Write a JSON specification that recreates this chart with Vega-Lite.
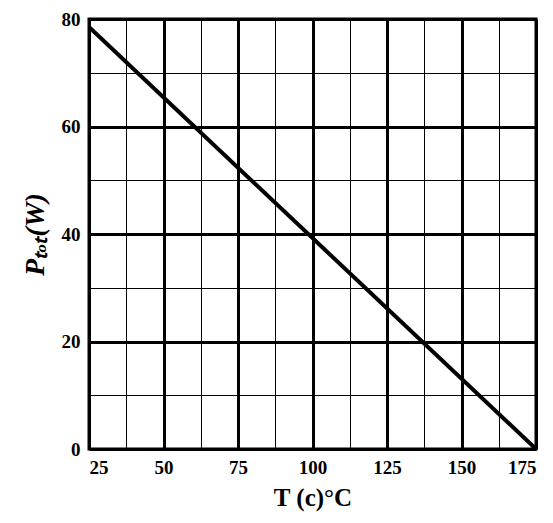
{
  "$schema": "https://vega.github.io/schema/vega-lite/v6.json",
  "autosize": "none",
  "width": 447,
  "height": 430,
  "padding": {"left": 89, "top": 19, "right": 17, "bottom": 74},
  "background": "white",
  "config": {
    "view": {"stroke": "black", "strokeWidth": 3},
    "font": "Liberation Serif"
  },
  "data": {"values": [
    {"T": 25, "P": 78.5},
    {"T": 175, "P": 0}
  ]},
  "mark": {"type": "line", "color": "black", "strokeWidth": 4, "clip": true},
  "encoding": {
    "x": {
      "field": "T", "type": "quantitative",
      "scale": {"domain": [25, 175], "nice": false, "zero": false},
      "axis": {
        "values": [25, 37.5, 50, 62.5, 75, 87.5, 100, 112.5, 125, 137.5, 150, 162.5, 175],
        "labelExpr": "datum.value % 25 === 0 ? format(datum.value, 'd') : ''",
        "grid": true,
        "gridColor": "black",
        "gridOpacity": 1,
        "gridWidth": {"condition": {"test": "datum.value % 25 === 0", "value": 3}, "value": 1},
        "domain": false,
        "ticks": false,
        "labelFont": "Liberation Serif",
        "labelFontWeight": "bold",
        "labelFontSize": 19,
        "labelColor": "black",
        "labelPadding": 9,
        "title": "T (c)°C",
        "titleFont": "Liberation Serif",
        "titleFontWeight": "bold",
        "titleFontSize": 25,
        "titleColor": "black",
        "titlePadding": 8
      }
    },
    "y": {
      "field": "P", "type": "quantitative",
      "scale": {"domain": [0, 80], "nice": false},
      "axis": {
        "values": [0, 10, 20, 30, 40, 50, 60, 70, 80],
        "labelExpr": "datum.value % 20 === 0 ? format(datum.value, 'd') : ''",
        "grid": true,
        "gridColor": "black",
        "gridOpacity": 1,
        "gridWidth": {"condition": {"test": "datum.value % 20 === 0", "value": 3}, "value": 1},
        "domain": false,
        "ticks": false,
        "labelFont": "Liberation Serif",
        "labelFontWeight": "bold",
        "labelFontSize": 19,
        "labelColor": "black",
        "labelPadding": 9,
        "title": "Pₜₒₜ(W)",
        "titleFont": "Liberation Serif",
        "titleFontWeight": "bold",
        "titleFontStyle": "italic",
        "titleFontSize": 28,
        "titleColor": "black",
        "titlePadding": 12
      }
    }
  }
}
